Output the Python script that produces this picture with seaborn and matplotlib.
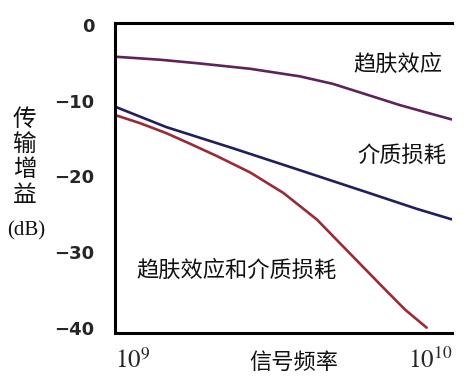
import matplotlib
matplotlib.use('Agg')
import matplotlib.pyplot as plt
import pandas as pd
import seaborn as sns

# values (frequency in Hz, gain in dB)
skin_freq = [1.0e9, 1.36e9, 1.79e9, 2.52e9, 3.54e9, 4.44e9, 5.58e9, 7.01e9, 8.6e9, 1.0e10]
skin_gain = [-4.2, -4.6, -5.1, -5.8, -6.8, -7.8, -9.2, -10.6, -11.7, -12.5]

diel_freq = [1.0e9, 1.42e9, 2.24e9, 3.54e9, 5.58e9, 7.86e9, 1.0e10]
diel_gain = [-10.8, -13.5, -16.3, -19.2, -22.1, -24.3, -25.7]

both_freq = [1.0e9, 1.19e9, 1.42e9, 1.67e9, 2.0e9, 2.52e9, 3.16e9, 3.97e9,
             4.98e9, 6.25e9, 7.25e9, 8.41e9]
both_gain = [-11.9, -13.0, -14.3, -15.7, -17.3, -19.5, -22.2, -25.7,
             -30.2, -34.7, -37.6, -40.0]

series_names = ['趋肤效应', '介质损耗', '趋肤效应和介质损耗']
series_colors = ['#5e2358', '#1f1f5e', '#9a2a36']
y_ticks = [0, -10, -20, -30, -40]

sns.set_theme(style='white')
plt.rcParams['font.family'] = ['Noto Sans CJK SC', 'DejaVu Sans']
plt.rcParams['mathtext.fontset'] = 'stix'

df = pd.concat([
    pd.DataFrame({'freq': skin_freq, 'gain': skin_gain, 'curve': series_names[0]}),
    pd.DataFrame({'freq': diel_freq, 'gain': diel_gain, 'curve': series_names[1]}),
    pd.DataFrame({'freq': both_freq, 'gain': both_gain, 'curve': series_names[2]}),
])

fig = plt.figure(figsize=(4.74, 3.88), dpi=100)
ax = fig.add_axes([0.2426, 0.1418, 0.711, 0.7989])

sns.lineplot(data=df, x='freq', y='gain', hue='curve', hue_order=series_names,
             palette=series_colors, linewidth=1.9, legend=False, ax=ax)

ax.set_xscale('log')
ax.set_xlim(1e9, 1e10)
ax.set_ylim(-40.7, 0.25)

# spines: left, bottom, top
for side in ['left', 'bottom', 'top']:
    ax.spines[side].set_visible(True)
    ax.spines[side].set_color('black')
    ax.spines[side].set_linewidth(2.2)
ax.spines['right'].set_visible(False)

ax.set_yticks(y_ticks)
ax.set_yticklabels([str(v).replace('-', '\u2212') for v in y_ticks],
                   fontsize=13, fontweight='bold', family=['DejaVu Sans'])
ax.tick_params(axis='y', length=0, pad=15)

ax.set_xticks([1e9, 1e10])
ax.minorticks_off()
ax.set_xticklabels(['$10^9$', '$10^{10}$'], fontsize=18)
ax.tick_params(axis='x', length=0, pad=11)
xl = ax.get_xticklabels()
xl[0].set_horizontalalignment('left')
xl[1].set_horizontalalignment('right')

ax.set_xlabel('')
ax.set_ylabel('')
ax.text(0.53, -0.095, '信号频率', transform=ax.transAxes, ha='center', va='center',
        fontsize=16, color='#111111')

fig.text(0.052, 0.595, '传\n输\n增\n益', ha='center', va='center', fontsize=17,
         linespacing=1.13, color='#111111')
fig.text(0.055, 0.405, '(dB)', ha='center', va='center', fontsize=15,
         family=['Liberation Serif'], color='#111111')

ax.text(0.84, 0.865, series_names[0], transform=ax.transAxes, ha='center', va='center',
        fontsize=16, color='#111111')
ax.text(0.852, 0.574, series_names[1], transform=ax.transAxes, ha='center', va='center',
        fontsize=16, color='#111111')
ax.text(0.359, 0.203, series_names[2], transform=ax.transAxes, ha='center', va='center',
        fontsize=16, color='#111111')

fig.savefig('out.png', dpi=100)
